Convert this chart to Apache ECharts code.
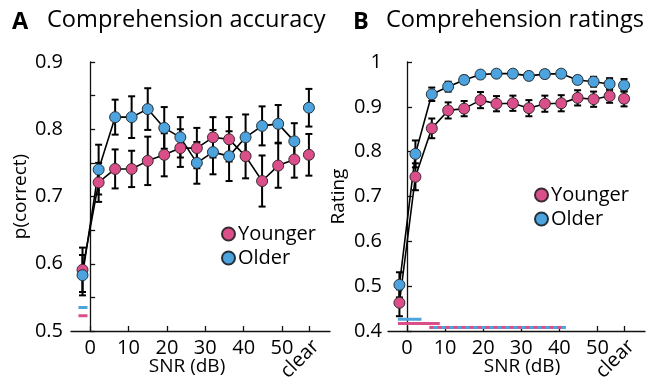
<!DOCTYPE html>
<html><head><meta charset="utf-8">
<script src="https://cdn.jsdelivr.net/npm/echarts@6/dist/echarts.min.js"></script>
<style>html,body{margin:0;padding:0;background:#fff}#c{width:647px;height:381px}</style>
</head><body><div id="c"></div>
<script>
// ---- data ----
const snr = [-2, 2.2, 6.5, 10.8, 15, 19.3, 23.5, 27.8, 32, 36.2, 40.5, 44.8, 49, 53.2];
const clearX = 57;
const xTicks = [0, 10, 20, 30, 40, 50];
const accTicks = [0.5, 0.6, 0.7, 0.8, 0.9];
const accMinorTicks = [0.5, 0.55, 0.6, 0.65, 0.7, 0.75, 0.8, 0.85, 0.9];
const ratTicks = [0.4, 0.5, 0.6, 0.7, 0.8, 0.9, 1];
// last value in each list is the "clear" condition
const accYoung = [0.591, 0.721, 0.741, 0.741, 0.753, 0.762, 0.772, 0.772, 0.788, 0.785, 0.760, 0.723, 0.746, 0.755, 0.762];
const accYoungErr = [0.033, 0.029, 0.029, 0.027, 0.036, 0.032, 0.028, 0.030, 0.030, 0.033, 0.033, 0.038, 0.033, 0.027, 0.031];
const accOld = [0.583, 0.740, 0.818, 0.818, 0.830, 0.802, 0.788, 0.750, 0.766, 0.760, 0.788, 0.805, 0.808, 0.782, 0.832];
const accOldErr = [0.030, 0.037, 0.026, 0.031, 0.031, 0.031, 0.030, 0.031, 0.033, 0.037, 0.034, 0.029, 0.028, 0.027, 0.028];
const ratYoung = [0.463, 0.744, 0.852, 0.892, 0.896, 0.915, 0.907, 0.908, 0.897, 0.907, 0.908, 0.920, 0.917, 0.924, 0.918];
const ratYoungErr = [0.030, 0.030, 0.022, 0.018, 0.017, 0.018, 0.017, 0.017, 0.018, 0.018, 0.018, 0.017, 0.017, 0.015, 0.017];
const ratOld = [0.503, 0.795, 0.928, 0.945, 0.960, 0.972, 0.974, 0.974, 0.969, 0.973, 0.974, 0.960, 0.956, 0.951, 0.948];
const ratOldErr = [0.028, 0.030, 0.015, 0.011, 0.009, 0.008, 0.008, 0.008, 0.008, 0.008, 0.008, 0.009, 0.011, 0.013, 0.014];
// significance bars: [xStart, xEnd, y]
const accSigOld = [-3.05, -0.7, 0.535];
const accSigYoung = [-3.05, -0.7, 0.5227];
const ratSigOld = [-2.4, 3.8, 0.426];
const ratSigYoung = [-2.4, 8.6, 0.417];
const ratSigBoth = [5.9, 41.7, 0.408];

// ---- styles ----
const PINK = '#DA4F8A', BLUE = '#4DA3DE', FONT = 'Open Sans';
const chart = echarts.init(document.getElementById('c'), null, {renderer: 'canvas'});

const xs = snr.concat([clearX]);
function pts(vals) { return xs.map((x, i) => [x, vals[i]]); }
function linePts(vals) { return snr.map((x, i) => [x, vals[i]]); }
function errPts(vals, errs) { return xs.map((x, i) => [x, vals[i] - errs[i], vals[i] + errs[i]]); }

function errRender(params, api) {
  const x = api.value(0);
  const a = api.coord([x, api.value(1)]), b = api.coord([x, api.value(2)]);
  const w = 3.5, st = {stroke: '#000', lineWidth: 2};
  return {type: 'group', children: [
    {type: 'line', shape: {x1: a[0], y1: a[1], x2: b[0], y2: b[1]}, style: st},
    {type: 'line', shape: {x1: a[0] - w, y1: a[1], x2: a[0] + w, y2: a[1]}, style: st},
    {type: 'line', shape: {x1: b[0] - w, y1: b[1], x2: b[0] + w, y2: b[1]}, style: st}
  ]};
}

function panelSeries(g, young, youngErr, old, oldErr) {
  const xi = g * 2;
  return [
    {type: 'line', xAxisIndex: xi, yAxisIndex: g, data: linePts(young), symbol: 'none', lineStyle: {color: '#000', width: 1.6}, z: 2, silent: true},
    {type: 'line', xAxisIndex: xi, yAxisIndex: g, data: linePts(old), symbol: 'none', lineStyle: {color: '#000', width: 1.6}, z: 2, silent: true},
    {type: 'custom', xAxisIndex: xi, yAxisIndex: g, data: errPts(young, youngErr), renderItem: errRender, z: 3, silent: true},
    {type: 'custom', xAxisIndex: xi, yAxisIndex: g, data: errPts(old, oldErr), renderItem: errRender, z: 3, silent: true},
    {name: 'Younger', type: 'scatter', xAxisIndex: xi, yAxisIndex: g, data: pts(young), symbol: 'circle', symbolSize: 11,
      itemStyle: {color: PINK, borderColor: '#3a2a30', borderWidth: 1, opacity: 1}, z: 4},
    {name: 'Older', type: 'scatter', xAxisIndex: xi, yAxisIndex: g, data: pts(old), symbol: 'circle', symbolSize: 11,
      itemStyle: {color: BLUE, borderColor: '#24313a', borderWidth: 1, opacity: 1}, z: 5}
  ];
}
function sigLine(g, s, color, dash) {
  return {type: 'line', xAxisIndex: g * 2, yAxisIndex: g, data: [[s[0], s[2]], [s[1], s[2]]], symbol: 'none', silent: true,
    lineStyle: {color: color, width: 3, type: dash ? [4, 4] : 'solid'}, z: 2};
}

function xAxesFor(g) {
  return [
    {gridIndex: g, type: 'value', min: -5, max: 62.5, position: 'bottom',
      axisLine: {lineStyle: {color: '#111', width: 1.3}},
      axisTick: {inside: true, length: 5, lineStyle: {color: '#111', width: 1.3}, customValues: xTicks.concat([clearX])},
      axisLabel: {customValues: xTicks, fontSize: 20, fontFamily: FONT, color: '#000', margin: 7},
      splitLine: {show: false}},
    {gridIndex: g, type: 'value', min: -5, max: 62.5, position: 'bottom',
      axisLine: {show: false}, axisTick: {show: false},
      axisLabel: {customValues: [clearX], rotate: 45, formatter: () => 'clear', verticalAlign: 'top',
        fontSize: 20, fontFamily: FONT, color: '#000', margin: 5},
      splitLine: {show: false}}
  ];
}

const option = {
  animation: false,
  grid: [
    {left: 71, top: 62, width: 259, height: 269, outerBoundsMode: 'none', containLabel: false},
    {left: 388, top: 62, width: 257, height: 269, outerBoundsMode: 'none', containLabel: false}
  ],
  xAxis: xAxesFor(0).concat(xAxesFor(1)),
  yAxis: [
    {gridIndex: 0, type: 'value', min: 0.5, max: 0.9,
      name: 'p(correct)', nameLocation: 'middle', nameGap: 41, nameTextStyle: {fontSize: 19, fontFamily: FONT, color: '#000'},
      axisLine: {show: true, lineStyle: {color: '#111', width: 1.3}},
      axisTick: {show: true, inside: true, length: 5, lineStyle: {color: '#111', width: 1.3}, customValues: accMinorTicks},
      axisLabel: {customValues: accTicks, formatter: v => v.toFixed(1), fontSize: 20, fontFamily: FONT, color: '#000', margin: 8},
      splitLine: {show: false}},
    {gridIndex: 1, type: 'value', min: 0.4, max: 1,
      name: 'Rating', nameLocation: 'middle', nameGap: 40, nameTextStyle: {fontSize: 19, fontFamily: FONT, color: '#000'},
      axisLine: {show: true, lineStyle: {color: '#111', width: 1.3}},
      axisTick: {show: true, inside: true, length: 5, lineStyle: {color: '#111', width: 1.3}, customValues: ratTicks},
      axisLabel: {customValues: ratTicks, formatter: v => (v === 1 ? '1' : v.toFixed(1)), fontSize: 20, fontFamily: FONT, color: '#000', margin: 6},
      splitLine: {show: false}}
  ],
  legend: [
    {data: ['Younger', 'Older'], orient: 'vertical', left: 216, top: 219, itemWidth: 13, itemHeight: 13, itemGap: 4, icon: 'circle',
      textStyle: {fontSize: 20, fontFamily: FONT, color: '#000', padding: [0, 0, 0, -2]}, selectedMode: false},
    {data: ['Younger', 'Older'], orient: 'vertical', left: 529, top: 180, itemWidth: 13, itemHeight: 13, itemGap: 4, icon: 'circle',
      textStyle: {fontSize: 20, fontFamily: FONT, color: '#000', padding: [0, 0, 0, -2]}, selectedMode: false}
  ],
  graphic: [
    {type: 'text', left: 12, top: 10, style: {text: 'A', font: 'bold 23.5px "Open Sans"', fill: '#000'}},
    {type: 'text', left: 47, top: 8, style: {text: 'Comprehension accuracy', font: '23.6px "Open Sans"', fill: '#000'}},
    {type: 'text', left: 353, top: 10, style: {text: 'B', font: 'bold 23.5px "Open Sans"', fill: '#000'}},
    {type: 'text', left: 386, top: 8, style: {text: 'Comprehension ratings', font: '23.6px "Open Sans"', fill: '#000'}},
    {type: 'text', x: 187, y: 357, style: {text: 'SNR (dB)', font: '19px "Open Sans"', fill: '#000', textAlign: 'center'}},
    {type: 'text', x: 522, y: 357, style: {text: 'SNR (dB)', font: '19px "Open Sans"', fill: '#000', textAlign: 'center'}}
  ],
  series: [].concat(
    panelSeries(0, accYoung, accYoungErr, accOld, accOldErr),
    panelSeries(1, ratYoung, ratYoungErr, ratOld, ratOldErr),
    [sigLine(0, accSigOld, BLUE), sigLine(0, accSigYoung, PINK),
     sigLine(1, ratSigOld, BLUE), sigLine(1, ratSigYoung, PINK),
     sigLine(1, ratSigBoth, BLUE), sigLine(1, ratSigBoth, PINK, true)]
  )
};
chart.setOption(option);
</script></body></html>
